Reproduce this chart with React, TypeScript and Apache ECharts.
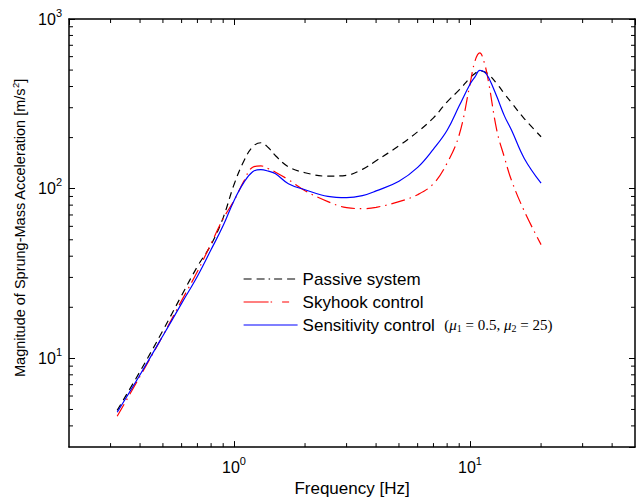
import React, { useEffect, useRef } from "react";
import * as echarts from "echarts";

const freq = [0.32, 0.4, 0.5, 0.6, 0.7, 0.8, 0.9, 1.0, 1.1, 1.2, 1.3, 1.4, 1.5, 1.7, 2, 2.5, 3, 3.5, 4, 5, 6, 7, 8, 9, 10, 10.5, 11, 11.5, 12, 13, 14, 15, 17, 20];
const passive = [4.94, 8.38, 14.6, 23.5, 34.8, 46.8, 67.5, 105.6, 145.2, 176.6, 186.5, 174.3, 156.3, 134.7, 124.2, 118.5, 120, 130, 146.1, 179, 216.4, 261.6, 325, 382.3, 449.8, 478, 494.5, 488, 471.5, 414.5, 362.2, 320.6, 258.1, 202.3];
const skyhook = [4.56, 7.84, 13.65, 21.9, 32.5, 47.5, 66.6, 85.0, 110.5, 133.8, 136.2, 131.1, 125.1, 113, 97.3, 83.9, 77.3, 76.3, 77.6, 83.9, 92.2, 107.0, 141.6, 207.8, 413, 566, 631, 551, 420, 219.4, 152.2, 111.6, 73.5, 46.8];
const sensitivity = [4.81, 8.01, 13.58, 21.1, 30.5, 43.8, 60.6, 85.0, 108.5, 125.9, 129.4, 126.8, 122.5, 107.0, 98.6, 90.0, 88.5, 91.0, 97.0, 110.7, 133.6, 171.2, 220.9, 307.8, 413, 456, 498, 488, 450, 347.7, 267.7, 220.9, 150.2, 107.7];

const seriesNames = ["Passive system", "Skyhook control", "Sensitivity control"];
const xMin = 0.2;
const xMax = 50;
const yMin = 3;
const yMax = 1000;
const xMinorTicks = [0.3, 0.4, 0.5, 0.6, 0.7, 0.8, 0.9, 2, 3, 4, 5, 6, 7, 8, 9, 20, 30, 40];
const yMinorTicks = [4, 5, 6, 7, 8, 9, 20, 30, 40, 50, 60, 70, 80, 90, 200, 300, 400, 500, 600, 700, 800, 900];

const SANS = "Liberation Sans, Arial, sans-serif";
const SERIF = "Liberation Serif, Times New Roman, serif";

function powLabel(v: number) {
  const l = Math.log10(v);
  const e = Math.round(l);
  if (Math.abs(l - e) > 1e-6) return "";
  return `{b|10}{e|${e}}`;
}

export default function App() {
  const ref = useRef<HTMLDivElement>(null);
  useEffect(() => {
    if (!ref.current) return;
    const chart = echarts.init(ref.current, null, { renderer: "svg" });
    const labelRich = {
      b: { fontSize: 16, fontFamily: SANS, color: "#000" },
      e: { fontSize: 11, fontFamily: SANS, color: "#000", padding: [0, 0, 13, 0] },
    };
    const frameLine = { show: true, lineStyle: { color: "#000", width: 1.5 } };
    const majorTick = { show: true, inside: true, length: 6, lineStyle: { color: "#000", width: 1 } };

    const tickData: number[][] = [];
    xMinorTicks.forEach((v) => {
      tickData.push([v, yMin, 0]);
      tickData.push([v, yMax, 1]);
    });
    yMinorTicks.forEach((v) => {
      tickData.push([xMin, v, 2]);
      tickData.push([xMax, v, 3]);
    });

    const mk = (arr: number[]) => freq.map((f, i) => [f, arr[i]]);
    const hiddenSymbol = { opacity: 0, color: "transparent", borderWidth: 0 };

    chart.setOption({
      animation: false,
      backgroundColor: "#fff",
      grid: { left: 69, top: 19, right: 1, bottom: 54 },
      xAxis: [
        {
          type: "log",
          logBase: 10,
          min: xMin,
          max: xMax,
          position: "bottom",
          axisLine: frameLine,
          axisTick: majorTick,
          splitLine: { show: false },
          axisLabel: { formatter: powLabel, margin: 8, rich: labelRich, showMinLabel: false, showMaxLabel: false },
          name: "Frequency [Hz]",
          nameLocation: "middle",
          nameGap: 30,
          nameTextStyle: { fontSize: 17, fontFamily: SANS, color: "#000" },
        },
        {
          type: "log",
          logBase: 10,
          min: xMin,
          max: xMax,
          position: "top",
          axisLine: frameLine,
          axisTick: majorTick,
          splitLine: { show: false },
          axisLabel: { show: false },
        },
      ],
      yAxis: [
        {
          type: "log",
          logBase: 10,
          min: yMin,
          max: yMax,
          position: "left",
          axisLine: frameLine,
          axisTick: majorTick,
          splitLine: { show: false },
          axisLabel: { formatter: powLabel, margin: 7, rich: labelRich, showMinLabel: false },
          name: "{a|Magnitude of Sprung-Mass Acceleration [m/s}{s|2}{a|]}",
          nameLocation: "middle",
          nameGap: 39,
          nameTextStyle: {
            fontSize: 14.5,
            fontFamily: SANS,
            color: "#000",
            padding: [0, 0, 0, 10],
            rich: {
              a: { fontSize: 14.5, fontFamily: SANS, color: "#000" },
              s: { fontSize: 9.5, fontFamily: SANS, color: "#000", padding: [0, 0, 8, 0] },
            },
          },
        },
        {
          type: "log",
          logBase: 10,
          min: yMin,
          max: yMax,
          position: "right",
          axisLine: frameLine,
          axisTick: majorTick,
          splitLine: { show: false },
          axisLabel: { show: false },
        },
      ],
      legend: {
        orient: "vertical",
        left: 243,
        top: 269,
        padding: 0,
        itemGap: 3,
        itemWidth: 54,
        itemHeight: 14,
        selectedMode: false,
        itemStyle: hiddenSymbol,
        textStyle: {
          fontSize: 17,
          fontFamily: SANS,
          color: "#000",
          lineHeight: 20,
          rich: {
            a: { fontSize: 17, fontFamily: SANS, color: "#000", lineHeight: 20 },
            g: { fontSize: 17, fontFamily: SANS, lineHeight: 20 },
            m: { fontSize: 15, fontFamily: SERIF, color: "#000", lineHeight: 20 },
            i: { fontSize: 15, fontFamily: SERIF, fontStyle: "italic", color: "#000", lineHeight: 20 },
            sub: { fontSize: 10, fontFamily: SERIF, color: "#000", padding: [7, 0, 0, 0] },
          },
        },
        formatter: (name: string) =>
          name === "Sensitivity control"
            ? "{a|Sensitivity control}{g|  }{m|(}{i|μ}{sub|1}{m| = 0.5, }{i|μ}{sub|2}{m| = 25)}"
            : `{a|${name}}`,
        data: [
          { name: seriesNames[0], itemStyle: hiddenSymbol, lineStyle: { type: [8, 5, 8, 4, 1.5, 4, 8, 5, 8, 10], width: 1.2, color: "#000" } },
          { name: seriesNames[1], itemStyle: hiddenSymbol, lineStyle: { type: [25, 2, 1.5, 10, 7, 20], width: 1.2, color: "#ff0000" } },
          { name: seriesNames[2], itemStyle: hiddenSymbol, lineStyle: { type: "solid", width: 1.2, color: "#0000ff" } },
        ],
      },
      series: [
        {
          name: seriesNames[0],
          type: "line",
          data: mk(passive),
          showSymbol: false,
          symbol: "none",
          smooth: 0.4,
          lineStyle: { color: "#000", width: 1.2, type: [7, 5] },
          itemStyle: { color: "#000" },
          z: 3,
        },
        {
          name: seriesNames[1],
          type: "line",
          data: mk(skyhook),
          showSymbol: false,
          symbol: "none",
          smooth: 0.4,
          lineStyle: { color: "#ff0000", width: 1.2, type: [14, 5, 1.5, 5] },
          itemStyle: { color: "#ff0000" },
          z: 4,
        },
        {
          name: seriesNames[2],
          type: "line",
          data: mk(sensitivity),
          showSymbol: false,
          symbol: "none",
          smooth: 0.4,
          lineStyle: { color: "#0000ff", width: 1.2, type: "solid" },
          itemStyle: { color: "#0000ff" },
          z: 5,
        },
        {
          type: "custom",
          silent: true,
          clip: false,
          xAxisIndex: 0,
          yAxisIndex: 0,
          data: tickData,
          z: 10,
          renderItem: (params: any, api: any) => {
            const p = api.coord([api.value(0), api.value(1)]);
            const d = api.value(2);
            const L = 4;
            let x2 = p[0];
            let y2 = p[1];
            if (d === 0) y2 -= L;
            else if (d === 1) y2 += L;
            else if (d === 2) x2 += L;
            else x2 -= L;
            return {
              type: "line",
              shape: { x1: p[0], y1: p[1], x2, y2 },
              style: { stroke: "#000", lineWidth: 1 },
            };
          },
        },
      ],
    });
    return () => chart.dispose();
  }, []);
  return <div ref={ref} style={{ position: "fixed", left: 0, top: 0, width: 636, height: 502 }} />;
}
